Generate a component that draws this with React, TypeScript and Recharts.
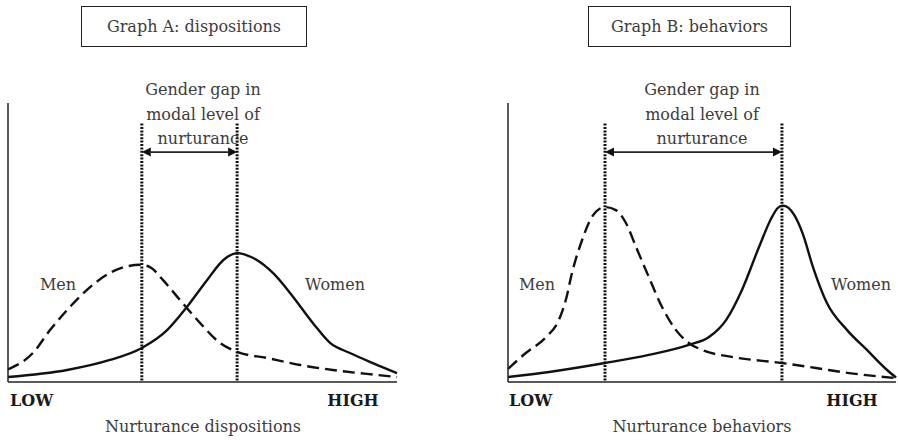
import { Line, LineChart, ReferenceLine, XAxis, YAxis } from "recharts";

type Pt = { x: number; y: number };

// x = nurturance level (LOW 0 .. HIGH 100), y = relative frequency (0..100)
const menDispositions: Pt[] = [
  { x: 0, y: 4.5 }, { x: 6.4, y: 10.4 }, { x: 10.8, y: 18.6 }, { x: 15.2, y: 25.8 },
  { x: 20.3, y: 33 }, { x: 26.2, y: 39.1 }, { x: 34, y: 42 }, { x: 36.5, y: 41.2 },
  { x: 39.8, y: 36.6 }, { x: 44.2, y: 29.4 }, { x: 49.4, y: 21.1 }, { x: 54.5, y: 14 },
  { x: 58.9, y: 10.8 }, { x: 66.6, y: 8.6 }, { x: 75.1, y: 6.1 }, { x: 83.5, y: 4.3 },
  { x: 92.3, y: 2.9 }, { x: 100, y: 1.8 },
];
const womenDispositions: Pt[] = [
  { x: 0, y: 1.8 }, { x: 15.2, y: 4.3 }, { x: 26.2, y: 7.9 }, { x: 34.4, y: 12.2 },
  { x: 40.9, y: 18.6 }, { x: 46, y: 26.9 }, { x: 51.2, y: 36.6 }, { x: 55.6, y: 44 },
  { x: 59, y: 46.2 }, { x: 62.5, y: 44.8 }, { x: 68.1, y: 39.1 }, { x: 73.3, y: 30.5 },
  { x: 78.4, y: 21.1 }, { x: 82.8, y: 14 }, { x: 87.9, y: 10.4 }, { x: 93.8, y: 6.8 },
  { x: 100, y: 3.2 },
];
const modesDispositions = [34.4, 58.9];

const menBehaviors: Pt[] = [
  { x: 0, y: 4.7 }, { x: 4.6, y: 10.4 }, { x: 9.8, y: 16.1 }, { x: 13.1, y: 22.2 },
  { x: 14.9, y: 29.4 }, { x: 16.5, y: 39.1 }, { x: 19.1, y: 50.9 }, { x: 21.6, y: 59.1 },
  { x: 25, y: 62.7 }, { x: 27.8, y: 61.6 }, { x: 30.4, y: 57 }, { x: 33, y: 48.4 },
  { x: 36.3, y: 37.6 }, { x: 39.7, y: 26.9 }, { x: 43.3, y: 18.6 }, { x: 46.6, y: 14 },
  { x: 50, y: 11.5 }, { x: 57.7, y: 9 }, { x: 70.6, y: 6.8 }, { x: 79.4, y: 5 },
  { x: 87.9, y: 3.2 }, { x: 100, y: 1.4 },
];
const womenBehaviors: Pt[] = [
  { x: 0, y: 1.8 }, { x: 10.6, y: 3.6 }, { x: 25, y: 6.8 }, { x: 36.3, y: 9.7 },
  { x: 46.6, y: 13.3 }, { x: 51.8, y: 16.1 }, { x: 56.2, y: 22.2 }, { x: 60.3, y: 33 },
  { x: 64.7, y: 48.4 }, { x: 67.8, y: 58.5 }, { x: 69.4, y: 62.2 }, { x: 70.8, y: 63.2 },
  { x: 72.3, y: 62.4 }, { x: 73.8, y: 59.8 }, { x: 76, y: 53 }, { x: 78.6, y: 41.2 },
  { x: 82.2, y: 28.3 }, { x: 87.4, y: 18.6 }, { x: 92.5, y: 11.5 }, { x: 97.7, y: 4.3 },
  { x: 100, y: 1.6 },
];
const modesBehaviors = [25, 70.6];

const panelTitles = ["Graph A: dispositions", "Graph B: behaviors"];
const axisTitles = ["Nurturance dispositions", "Nurturance behaviors"];
const gapLabel = ["Gender gap in", "modal level of", "nurturance"];
const seriesLabels = ["Men", "Women"];
const endLabels = ["LOW", "HIGH"];

const FONT = "'DejaVu Serif', serif";
const INK = "#111";
const TEXT = "#3c3c3c";

function GapArrow(props: any) {
  const { x1, y1, x2, y2 } = props;
  const h = 9;
  const w = 4.5;
  return (
    <g>
      <line x1={x1 + h} y1={y1} x2={x2 - h} y2={y2} stroke="#222" strokeWidth={1.8} />
      <polygon points={`${x1},${y1} ${x1 + h},${y1 - w} ${x1 + h},${y1 + w}`} fill={INK} />
      <polygon points={`${x2},${y2} ${x2 - h},${y2 - w} ${x2 - h},${y2 + w}`} fill={INK} />
    </g>
  );
}

function Label({ x, y, children, bold, align = "center" }: any) {
  return (
    <div
      style={{
        position: "absolute",
        left: x,
        top: y,
        transform: align === "center" ? "translate(-50%, -50%)" : "translate(0, -50%)",
        whiteSpace: "nowrap",
        fontSize: 16,
        fontWeight: bold ? 700 : 400,
        color: bold ? "#1a1a1a" : TEXT,
        textAlign: "center",
      }}
    >
      {children}
    </div>
  );
}

interface PanelProps {
  left: number;
  margin: { top: number; left: number; right: number; bottom: number };
  men: Pt[];
  women: Pt[];
  modes: number[];
}

function Panel({ left, margin, men, women, modes }: PanelProps) {
  return (
    <div style={{ position: "absolute", left, top: 0 }}>
      <LineChart width={449} height={440} margin={margin}>
        <XAxis type="number" dataKey="x" domain={[0, 100]} tick={false} tickLine={false} height={1}
          axisLine={{ stroke: "#222", strokeWidth: 1.5 }} />
        <YAxis type="number" dataKey="y" domain={[0, 100]} tick={false} tickLine={false} width={1}
          axisLine={{ stroke: "#222", strokeWidth: 1.5 }} />
        {modes.map((m) => (
          <ReferenceLine key={m} segment={[{ x: m, y: 0.5 }, { x: m, y: 93 }]} stroke={INK}
            strokeWidth={3} strokeDasharray="2 1.4" />
        ))}
        <ReferenceLine segment={[{ x: modes[0], y: 82.4 }, { x: modes[1], y: 82.4 }]} shape={GapArrow} />
        <Line data={men} dataKey="y" type="monotone" dot={false} stroke={INK} strokeWidth={2.4}
          strokeDasharray="12 6" isAnimationActive={false} />
        <Line data={women} dataKey="y" type="monotone" dot={false} stroke={INK} strokeWidth={2.4}
          isAnimationActive={false} />
      </LineChart>
    </div>
  );
}

function TitleBox({ x, width, text }: { x: number; width: number; text: string }) {
  return (
    <div
      style={{
        position: "absolute",
        left: x,
        top: 6,
        width,
        height: 41,
        boxSizing: "border-box",
        border: "1px solid #222",
        display: "flex",
        alignItems: "center",
        justifyContent: "center",
        fontSize: 16,
        color: TEXT,
      }}
    >
      {text}
    </div>
  );
}

function GapText({ x }: { x: number }) {
  return (
    <div
      style={{
        position: "absolute",
        left: x,
        top: 115,
        transform: "translate(-50%, -50%)",
        fontSize: 16,
        lineHeight: "24.5px",
        color: TEXT,
        textAlign: "center",
        whiteSpace: "nowrap",
      }}
    >
      {gapLabel.map((l) => (
        <div key={l}>{l}</div>
      ))}
    </div>
  );
}

export default function App() {
  return (
    <div style={{ position: "absolute", left: 0, top: 0, width: 898, height: 440, background: "#fff", fontFamily: FONT, overflow: "hidden" }}>
      <Panel left={0} margin={{ top: 103, left: 7, right: 52, bottom: 57 }}
        men={menDispositions} women={womenDispositions} modes={modesDispositions} />
      <Panel left={449} margin={{ top: 103, left: 58, right: 2, bottom: 57 }}
        men={menBehaviors} women={womenBehaviors} modes={modesBehaviors} />

      <TitleBox x={81} width={226} text={panelTitles[0]} />
      <TitleBox x={588} width={203} text={panelTitles[1]} />

      <GapText x={203} />
      <GapText x={702} />

      <Label x={58} y={284}>{seriesLabels[0]}</Label>
      <Label x={335} y={284}>{seriesLabels[1]}</Label>
      <Label x={537} y={284}>{seriesLabels[0]}</Label>
      <Label x={861} y={284}>{seriesLabels[1]}</Label>

      <Label x={10} y={400} bold align="left">{endLabels[0]}</Label>
      <Label x={353} y={400} bold>{endLabels[1]}</Label>
      <Label x={509} y={400} bold align="left">{endLabels[0]}</Label>
      <Label x={852} y={400} bold>{endLabels[1]}</Label>

      <Label x={203} y={426}>{axisTitles[0]}</Label>
      <Label x={702} y={426}>{axisTitles[1]}</Label>
    </div>
  );
}
